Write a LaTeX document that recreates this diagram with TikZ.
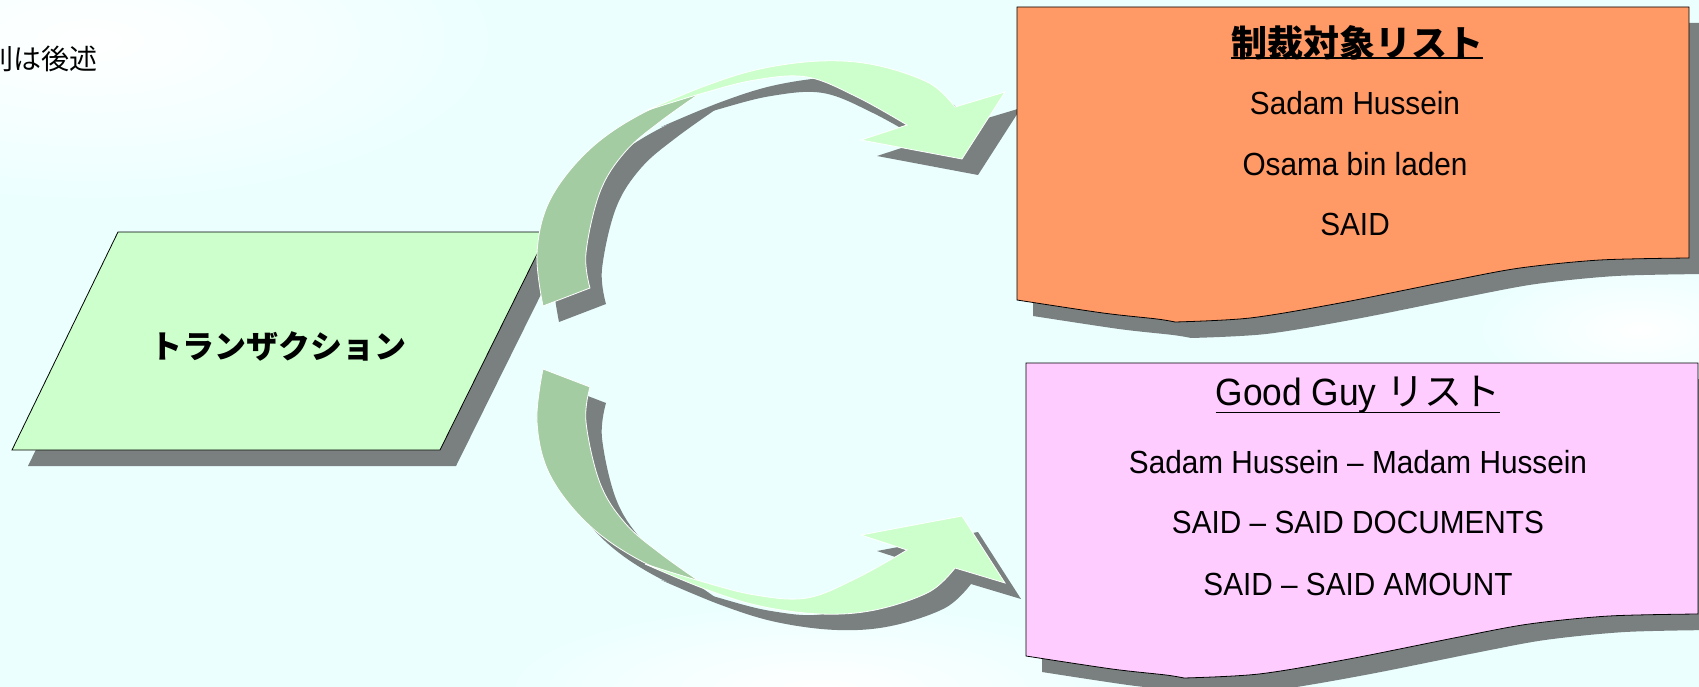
\documentclass[tikz,border=0pt]{standalone}
\usepackage{fontspec}
\newfontfamily\latinfont[FakeStretch=0.93]{Liberation Sans}
\newfontfamily\jpfont{Noto Sans CJK JP}
\usepackage{xcolor}
\definecolor{bgcyan}{RGB}{235,255,255}
\definecolor{lightgreen}{RGB}{204,255,204}
\definecolor{darkgreen}{RGB}{163,204,163}
\definecolor{shadowgray}{RGB}{122,128,128}
\definecolor{listorange}{RGB}{255,153,102}
\definecolor{listpink}{RGB}{255,204,255}
\newcommand{\thickul}[2][2pt]{\setbox0\hbox{#2}\leavevmode\rlap{\rule[-#1]{\wd0}{1.5pt}}\box0}
\tikzset{
  listitem/.style={font=\latinfont\fontsize{32}{36}\selectfont, inner sep=0pt, anchor=base},
  listtitle/.style={inner sep=0pt, anchor=base},
  edgeline/.style={draw=black, line width=0.8pt},
  dropshadow/.style={fill=shadowgray},
  arrowface/.style={draw=white, line width=0.8pt},
}

\begin{document}
\begin{tikzpicture}[x=1pt,y=-1pt]
    \useasboundingbox (0,0) rectangle (1699,687);
    \clip (0,0) rectangle (1699,687);

    %background
    \fill[bgcyan] (0,0) rectangle (1699,687);
    \shade[inner color=white, outer color=bgcyan] (90,40) ellipse (430 and 170);
    \shade[inner color=white, outer color=bgcyan] (1640,330) ellipse (170 and 70);
    \shade[inner color=white, outer color=bgcyan] (820,690) ellipse (330 and 90);

    \def\docshape{(1017,7) -- (1689,7) -- (1689,258)
        -- plot[smooth,tension=0.5] coordinates {(1689,258) (1600,260) (1520,268) (1450,281) (1340,303) (1250,318) (1175,322)}
        -- plot[smooth,tension=0.5] coordinates {(1175,322) (1157,319) (1103,313) (1017,300)} -- cycle}
    \def\darkband{(543,306)
        -- plot[smooth,tension=0.6] coordinates {(543,306) (537,253) (550,200) (589,150) (643,113) (712,85)}
        -- plot[smooth,tension=0.6] coordinates {(712,85) (661,121) (625,152) (600,192) (586,253) (590,288)} -- cycle}
    \def\lightband{(645,111)
        -- plot[smooth,tension=0.6] coordinates {(645,111) (705,86) (760,69) (821,61) (875,65) (929,83) (955,107)}
        -- (1005,92) -- (962,159) -- (861,140) -- (907,125)
        -- plot[smooth,tension=0.6] coordinates {(907,125) (857,97) (807,77) (755,80) (700,94) (645,111)} -- cycle}

    %note
    \node[anchor=base west, inner sep=0pt, font=\jpfont\fontsize{28}{32}\selectfont] (note) at (-15,70) {則は後述};

    %transaction
    \fill[dropshadow] (134,248) -- (564,248) -- (456,466) -- (28,466) -- cycle;
    \filldraw[fill=lightgreen, edgeline] (118,232) -- (548,232) -- (440,450) -- (12,450) -- cycle;
    \node[font=\jpfont\bfseries\fontsize{32}{36}\selectfont] (trans) at (278,346) {トランザクション};

    %arrows
    \begin{scope}[xshift=16pt, yshift=-16pt]
        \fill[dropshadow] \darkband;
        \fill[dropshadow] \lightband;
    \end{scope}
    \begin{scope}[xshift=16pt, yshift=-691pt, yscale=-1]
        \fill[dropshadow] \darkband;
        \fill[dropshadow] \lightband;
    \end{scope}
    \filldraw[fill=darkgreen, arrowface] \darkband;
    \filldraw[fill=lightgreen, arrowface] \lightband;
    \begin{scope}[yshift=-675pt, yscale=-1]
        \filldraw[fill=darkgreen, arrowface] \darkband;
        \filldraw[fill=lightgreen, arrowface] \lightband;
    \end{scope}

    %sanction list
    \fill[dropshadow, xshift=16pt, yshift=-16pt] \docshape;
    \filldraw[fill=listorange, edgeline] \docshape;
    \node[listtitle, font=\jpfont\bfseries\fontsize{36}{40}\selectfont] (sanctitle) at (1357,57) {\thickul{制裁対象リスト}};
    \node[listitem] (sanc1) at (1355,115) {Sadam Hussein};
    \node[listitem] (sanc2) at (1355,176) {Osama bin laden};
    \node[listitem] (sanc3) at (1355,235) {SAID};

    %good guy list
    \begin{scope}[xshift=9pt, yshift=-356pt]
        \fill[dropshadow, xshift=16pt, yshift=-16pt] \docshape;
        \filldraw[fill=listpink, edgeline] \docshape;
    \end{scope}
    \node[listtitle, font=\latinfont\fontsize{38}{44}\selectfont] (goodtitle) at (1358,405) {\thickul[8pt]{Good Guy {\jpfont リスト}}};
    \node[listitem] (good1) at (1358,473) {Sadam Hussein – Madam Hussein};
    \node[listitem] (good2) at (1358,533) {SAID – SAID DOCUMENTS};
    \node[listitem] (good3) at (1358,595) {SAID – SAID AMOUNT};
\end{tikzpicture}
\end{document}
